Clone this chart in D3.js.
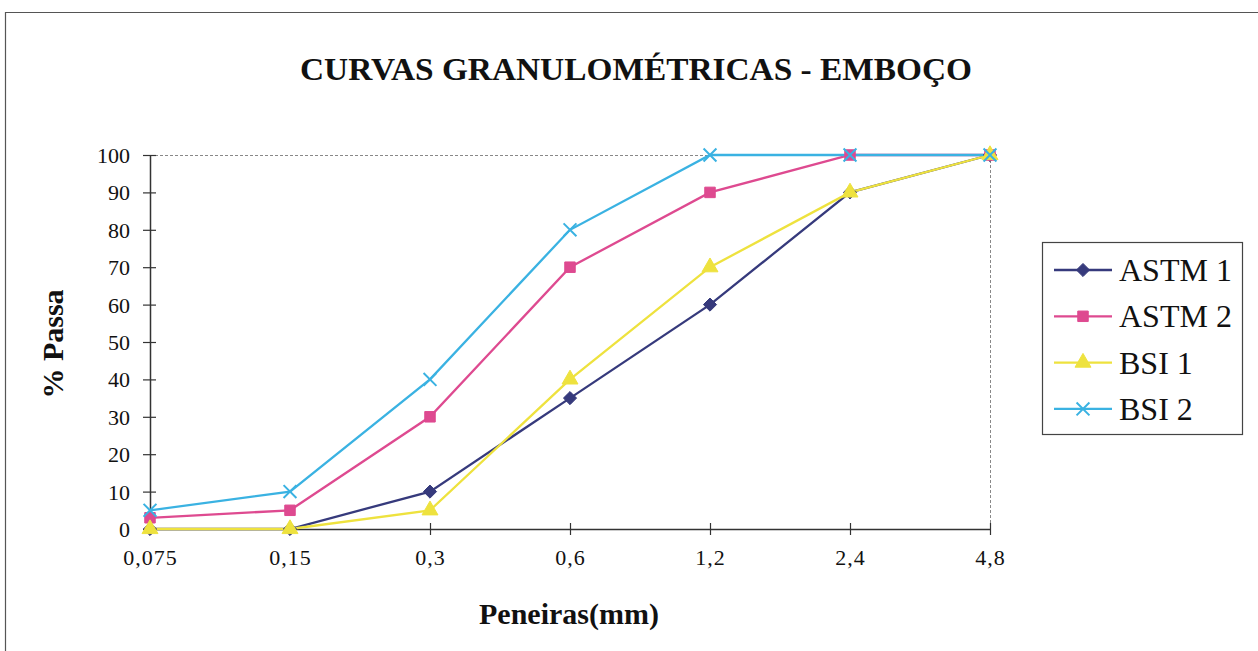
<!DOCTYPE html>
<html>
<head>
<meta charset="utf-8">
<script src="https://cdn.jsdelivr.net/npm/d3@7/dist/d3.min.js"></script>
<style>
  html, body { margin: 0; padding: 0; background: #fff; }
  svg { display: block; }
  text { font-family: "Liberation Serif", "Times New Roman", serif; fill: #111; }
</style>
</head>
<body>
<svg id="chart" width="1258" height="651" font-family="Liberation Serif"></svg>
<script>
// Sieve sizes (mm) and cumulative % passing for each sample
const sieves = ["0,075", "0,15", "0,3", "0,6", "1,2", "2,4", "4,8"];
const astm1 = [0, 0, 10, 35, 60, 90, 100];
const astm2 = [3, 5, 30, 70, 90, 100, 100];
const bsi1  = [0, 0, 5, 40, 70, 90, 100];
const bsi2  = [5, 10, 40, 80, 100, 100, 100];
const seriesNames = ["ASTM 1", "ASTM 2", "BSI 1", "BSI 2"];
const yTicks = [0, 10, 20, 30, 40, 50, 60, 70, 80, 90, 100];

const series = [
  { name: seriesNames[0], values: astm1, color: "#363a7c", symbol: d3.symbolDiamond2 },
  { name: seriesNames[1], values: astm2, color: "#de4a90", symbol: d3.symbolSquare },
  { name: seriesNames[2], values: bsi1,  color: "#eee23e", symbol: d3.symbolTriangle },
  { name: seriesNames[3], values: bsi2,  color: "#3ab2e2", symbol: d3.symbolX }
];

const svg = d3.select("#chart");
const plot = { left: 150, right: 990, top: 155, bottom: 529 };

const x = d3.scalePoint().domain(sieves).range([plot.left, plot.right]);
const y = d3.scaleLinear().domain([0, 100]).range([plot.bottom, plot.top]);

// outer frame (top and left edges)
svg.append("path")
  .attr("d", "M5.5,651 V12.5 H1258")
  .attr("fill", "none").attr("stroke", "#555").attr("stroke-width", 1.2);

// title
svg.append("text")
  .attr("x", 636).attr("y", 80)
  .attr("text-anchor", "middle")
  .attr("font-size", 31).attr("font-weight", "bold")
  .attr("textLength", 672).attr("lengthAdjust", "spacingAndGlyphs")
  .text("CURVAS GRANULOMÉTRICAS - EMBOÇO");

// dashed plot border (top and right)
svg.append("path")
  .attr("d", `M${plot.left},${plot.top + 0.5} H${plot.right + 0.5} V${plot.bottom}`)
  .attr("fill", "none").attr("stroke", "#888").attr("stroke-width", 1)
  .attr("stroke-dasharray", "3,2");

// y axis
const yAxis = svg.append("g")
  .attr("transform", `translate(${plot.left},0)`)
  .call(d3.axisLeft(y).tickValues(yTicks).tickSize(0).tickPadding(20));
yAxis.select(".domain").attr("stroke", "#333").attr("stroke-width", 1.5);
yAxis.selectAll(".tick text")
  .attr("font-size", 22).attr("font-family", "Liberation Serif").attr("fill", "#111")
  .attr("dy", "0.34em");
yAxis.selectAll(".tick").append("line")
  .attr("x1", -7).attr("x2", 6).attr("stroke", "#333").attr("stroke-width", 1.2);

// x axis
const xAxis = svg.append("g")
  .attr("transform", `translate(0,${plot.bottom})`)
  .call(d3.axisBottom(x).tickSize(0).tickPadding(20));
xAxis.select(".domain").attr("stroke", "#333").attr("stroke-width", 1.5);
xAxis.selectAll(".tick text")
  .attr("font-size", 22).attr("font-family", "Liberation Serif").attr("fill", "#111")
  .attr("letter-spacing", 1);
xAxis.selectAll(".tick").append("line")
  .attr("y1", -6).attr("y2", 6).attr("stroke", "#333").attr("stroke-width", 1.2);

// axis titles
svg.append("text")
  .attr("transform", "translate(63,344) rotate(-90)")
  .attr("text-anchor", "middle")
  .attr("font-size", 30).attr("font-weight", "bold")
  .text("% Passa");

svg.append("text")
  .attr("x", 569).attr("y", 624)
  .attr("text-anchor", "middle")
  .attr("font-size", 30).attr("font-weight", "bold")
  .text("Peneiras(mm)");

// curves
const line = d3.line()
  .x((d, i) => x(sieves[i]))
  .y(d => y(d));

function drawMarker(g, s, size) {
  const isX = s.symbol === d3.symbolX;
  g.append("path")
    .attr("d", d3.symbol().type(s.symbol).size(size)())
    .attr("fill", isX ? "none" : s.color)
    .attr("stroke", s.color)
    .attr("stroke-width", isX ? 2 : 1);
}

series.forEach(s => {
  svg.append("path")
    .datum(s.values)
    .attr("d", line)
    .attr("fill", "none")
    .attr("stroke", s.color)
    .attr("stroke-width", 2.3);
});

series.forEach(s => {
  s.values.forEach((v, i) => {
    const g = svg.append("g").attr("transform", `translate(${x(sieves[i])},${y(v)})`);
    drawMarker(g, s, 110);
  });
});

// legend
const legend = svg.append("g");
legend.append("rect")
  .attr("x", 1042.5).attr("y", 242.5).attr("width", 200).attr("height", 192)
  .attr("fill", "#fff").attr("stroke", "#444").attr("stroke-width", 1.2);

series.forEach((s, i) => {
  const ly = 270 + i * 46.3;
  const g = legend.append("g");
  g.append("line")
    .attr("x1", 1054).attr("x2", 1112).attr("y1", ly).attr("y2", ly)
    .attr("stroke", s.color).attr("stroke-width", 2.3);
  const m = g.append("g").attr("transform", `translate(1083,${ly})`);
  drawMarker(m, s, 110);
  g.append("text")
    .attr("x", 1119).attr("y", ly + 11)
    .attr("font-size", 32)
    .text(s.name);
});
</script>
</body>
</html>
